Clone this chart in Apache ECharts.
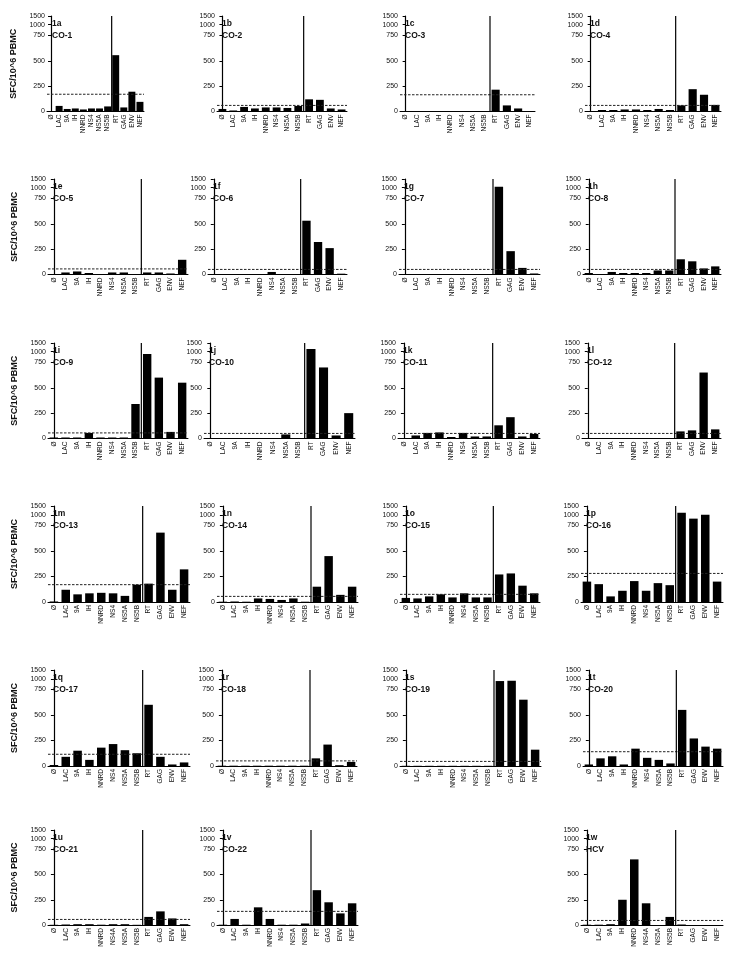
<!DOCTYPE html>
<html><head><meta charset="utf-8">
<script src="https://cdn.jsdelivr.net/npm/echarts@6/dist/echarts.min.js"></script>
<style>html,body{margin:0;padding:0;background:#fff}#c{width:737px;height:962px}</style>
</head><body><div id="c"></div>
<script>
// ---------- data ----------
const categories = ['Ø','LAC','9A','IH','NNRD','NS4','NS5A','NS5B','RT','GAG','ENV','NEF'];
const categoriesNS4A = ['Ø','LAC','9A','IH','NNRD','NS4A','NS5A','NS5B','RT','GAG','ENV','NEF'];
const panelIds = ['1a','1b','1c','1d','1e','1f','1g','1h','1i','1j','1k','1l','1m','1n','1o','1p','1q','1r','1s','1t','1u','1v','1w'];
const subjects = ['CO-1','CO-2','CO-3','CO-4','CO-5','CO-6','CO-7','CO-8','CO-9','CO-10','CO-11','CO-12','CO-13','CO-14','CO-15','CO-16','CO-17','CO-18','CO-19','CO-20','CO-21','CO-22','HCV'];
const yTickLabels = [0,250,500,750,1000,1500];
const yTitle = 'SFC/10^6 PBMC';

const v1a = [5,55,25,30,20,30,30,50,555,40,195,95];
const v1b = [25,10,45,30,40,40,35,55,120,115,30,20];
const v1c = [5,4,4,4,4,4,4,4,215,60,30,5];
const v1d = [5,15,15,20,20,15,25,15,60,220,165,65];
const v1e = [3,20,30,15,5,20,20,5,20,20,10,145];
const v1f = [3,0,3,3,3,25,3,3,530,320,260,8];
const v1g = [3,3,3,3,3,3,3,3,1060,230,65,10];
const v1h = [15,3,25,15,15,15,40,40,150,130,60,80];
const v1i = [10,10,10,55,10,10,10,340,870,600,65,550];
const v1j = [3,3,3,3,3,3,40,3,1160,700,30,250];
const v1k = [5,30,55,60,15,55,20,20,130,210,20,45];
const v1l = [3,3,3,3,3,3,3,3,70,80,650,90];
const v1m = [5,120,75,85,90,85,60,170,180,680,120,320];
const v1n = [3,5,3,35,30,20,35,3,150,450,70,150];
const v1o = [40,35,55,75,45,85,45,45,270,280,160,85];
const v1p = [200,175,55,110,205,110,185,165,1120,780,1000,200];
const v1q = [10,90,150,60,180,215,155,125,600,90,15,35];
const v1r = [3,3,3,3,3,3,3,3,75,210,8,40];
const v1s = [2,2,2,2,2,2,2,2,870,890,650,160];
const v1t = [15,75,95,15,170,80,60,25,550,270,190,170];
const v1u = [2,5,8,8,3,8,8,2,80,135,65,8];
const v1v = [3,60,3,175,60,3,3,15,345,225,115,215];
const v1w = [3,3,8,250,650,215,0,80,5,0,0,0];
const thresholds = [170,60,165,60,55,50,50,50,55,50,50,50,170,55,75,280,115,50,45,140,55,135,45];

const panelValues = [v1a,v1b,v1c,v1d,v1e,v1f,v1g,v1h,v1i,v1j,v1k,v1l,v1m,v1n,v1o,v1p,v1q,v1r,v1s,v1t,v1u,v1v,v1w];

// ---------- layout (px) ----------
const layout = [
 [47,16,97,95.5],[217,16,130,95.5],[400,16,135,95.5],[585,16,136,95.5],
 [48,179,140,95.5],[208,179,139,95.5],[399,179,141,95.5],[583,179,138,95.5],
 [48,343,140,95.5],[204,343,151,95.5],[398,343,142,95.5],[582,343,139,95.5],
 [48,506,142,96],[217,506,141,96],[400,506,140,96],[581,506,142,96],
 [48,670,142,96],[216,670,141,96],[400,670,141,96],[583,670,140,96],
 [48,830,142,95],[217,830,141,95],[581,830,142,95]];
const leftColumn = [0,4,8,12,16,20];

// broken axis: 0-750 linear, 750-1500 compressed above a gap
function T(v){ return v <= 750 ? v : 812 + (v - 750) * 0.172; }
const yMax = T(1500);
const FONT = 'Liberation Sans, Arial, sans-serif';

const grid = [], xAxis = [], yAxis = [], series = [], title = [];
panelValues.forEach((vals, i) => {
  const [l, t, w, h] = layout[i];
  grid.push({left: l, top: t, width: w, height: h, containLabel: false});
  const cats = (i === 20 || i === 22) ? categoriesNS4A : categories;
  xAxis.push({
    type: 'category', gridIndex: i, data: cats, boundaryGap: true,
    axisLine: {show: true, lineStyle: {color: '#000', width: 1}},
    axisTick: {show: false},
    axisLabel: {rotate: 90, interval: 0, fontSize: 6.5, margin: 3, color: '#111', fontFamily: FONT, hideOverlap: false}
  });
  xAxis.push({type: 'value', gridIndex: i, min: -0.5, max: 11.5, show: false});
  const ya = {
    type: 'value', gridIndex: i, min: 0, max: yMax,
    axisLine: {show: true, lineStyle: {color: '#000', width: 1.2}}, splitLine: {show: false},
    axisTick: {show: true, length: 3, lineStyle: {color: '#000', width: 1}, customValues: yTickLabels.map(T)},
    axisLabel: {fontSize: 7, margin: 2, color: '#111', fontFamily: FONT,
      customValues: yTickLabels.map(T),
      formatter: (val) => { const k = yTickLabels.find(x => Math.abs(T(x) - val) < 0.5); return k === undefined ? '' : String(k); }}
  };
  if (leftColumn.includes(i)) {
    Object.assign(ya, {name: yTitle, nameLocation: 'middle', nameGap: 29, nameRotate: 90,
      nameTextStyle: {fontSize: 9, fontWeight: 'bold', color: '#111', fontFamily: FONT}});
  }
  yAxis.push(ya);

  series.push({type: 'bar', xAxisIndex: 2*i, yAxisIndex: i, data: vals.map(T), barWidth: i === 0 ? '86%' : '72%',
    itemStyle: {color: '#000'}, silent: true, z: 2});
  series.push({type: 'line', xAxisIndex: 2*i+1, yAxisIndex: i, data: [[-0.5, T(thresholds[i])],[11.5, T(thresholds[i])]],
    symbol: 'none', clip: false, lineStyle: {color: '#222', width: 1, type: [2.5, 1.5]}, z: 3, silent: true});
  series.push({type: 'line', xAxisIndex: 2*i+1, yAxisIndex: i, data: [[7.5, 0],[7.5, yMax]],
    symbol: 'none', clip: false, lineStyle: {color: '#000', width: 1.2}, z: 4, silent: true});
  // white gap across the axis break
  series.push({type: 'line', xAxisIndex: 2*i+1, yAxisIndex: i, data: [[-0.5, 760],[-0.5, T(1000) - 14]],
    symbol: 'none', clip: false, lineStyle: {color: '#fff', width: 3, cap: 'butt'}, z: 5, silent: true});

  title.push({text: panelIds[i] + '\n' + subjects[i], left: l + 5, top: t + 2, padding: 0,
    textStyle: {fontSize: 8.5, fontWeight: 'bold', color: '#111', lineHeight: 11.5, fontFamily: FONT}});
});

const chart = echarts.init(document.getElementById('c'), null, {renderer: 'canvas'});
chart.setOption({animation: false, backgroundColor: '#fff', title, grid, xAxis, yAxis, series});
</script></body></html>
